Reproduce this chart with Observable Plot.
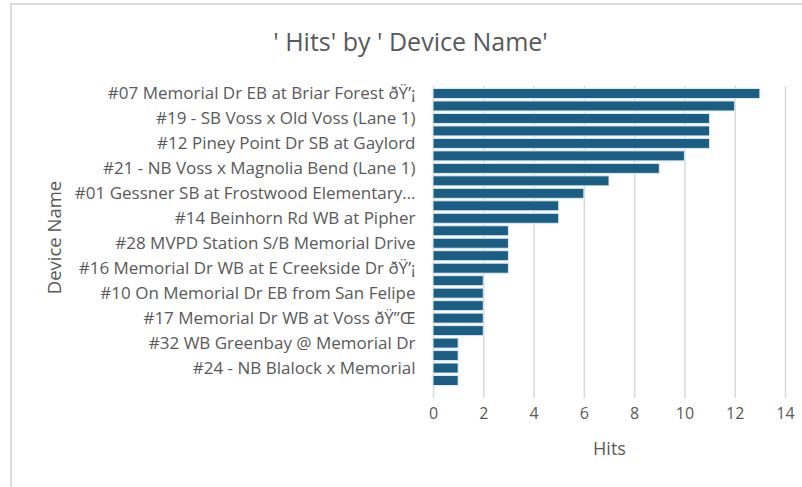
<!DOCTYPE html>
<html>
<head>
<meta charset="utf-8">
<script src="https://cdn.jsdelivr.net/npm/d3@7"></script>
<script src="https://cdn.jsdelivr.net/npm/@observablehq/plot@0.6"></script>
<style>
  html, body { margin: 0; padding: 0; background: #fff; }
  #wrap { position: relative; width: 802px; height: 487px; overflow: hidden; }
  #wrap svg { display: block; }
  #frame { position: absolute; left: 10px; top: 3px; width: 800px; height: 500px;
           border-top: 2px solid #dcdcdc; border-left: 2px solid #dcdcdc; pointer-events: none; }
</style>
</head>
<body>
<div id="wrap"><div id="frame"></div></div>
<script>
const title = "' Hits' by ' Device Name'";
const xLabel = "Hits";
const yLabel = "Device Name";
// Device names (only every other bar is labelled in the reference; unlabelled ones are null)
const deviceNames = [
  "#07 Memorial Dr EB at Briar Forest ðŸ’¡", null,
  "#19 - SB Voss x Old Voss (Lane 1)", null,
  "#12 Piney Point Dr SB at Gaylord", null,
  "#21 - NB Voss x Magnolia Bend (Lane 1)", null,
  "#01 Gessner SB at Frostwood Elementary…", null,
  "#14 Beinhorn Rd WB at Pipher", null,
  "#28 MVPD Station S/B Memorial Drive", null,
  "#16 Memorial Dr WB at E Creekside Dr ðŸ’¡", null,
  "#10 On Memorial Dr EB from San Felipe", null,
  "#17 Memorial Dr WB at Voss ðŸ”Œ", null,
  "#32 WB Greenbay @ Memorial Dr", null,
  "#24 - NB Blalock x Memorial", null
];
const hits = [13, 12, 11, 11, 11, 10, 9, 7, 6, 5, 5, 3, 3, 3, 3, 2, 2, 2, 2, 2, 1, 1, 1, 1];
const xTicks = [0, 2, 4, 6, 8, 10, 12, 14];

const data = hits.map((h, i) => ({i, hits: h}));
const labelled = d3.range(hits.length).filter(i => deviceNames[i] != null);

const W = 802, H = 487, mL = 433, mR = 17, mT = 86, mB = 99;
const FONT = "'Open Sans', sans-serif";

const chart = Plot.plot({
  width: W, height: H,
  marginLeft: mL, marginRight: mR, marginTop: mT, marginBottom: mB,
  style: {fontFamily: FONT, fontSize: "17px", color: "#595959", background: "transparent"},
  x: {domain: [0, 14], ticks: xTicks, label: null},
  y: {domain: d3.range(hits.length), padding: 0.2, round: false, label: null},
  marks: [
    Plot.gridX(xTicks, {stroke: "#d9d9d9", strokeOpacity: 1, strokeWidth: 1.5, insetBottom: -10}),
    Plot.axisX({ticks: xTicks, tickSize: 0, tickPadding: 19, label: null, fontSize: 16}),
    Plot.axisY({ticks: labelled, tickFormat: i => deviceNames[i] ?? "", tickSize: 0, tickPadding: 18, label: null, fontSize: 17}),
    Plot.barX(data, {x: "hits", y: "i", fill: "#1a5e83", stroke: "#dfe9ef", strokeWidth: 1}),
    Plot.text([xLabel], {frameAnchor: "bottom", lineAnchor: "middle", textAnchor: "middle", dy: 61, fontSize: 18, fill: "#595959"}),
    Plot.text([yLabel], {frameAnchor: "left", lineAnchor: "middle", textAnchor: "middle", dx: -378, rotate: -90, fontSize: 18.5, fill: "#595959"}),
    Plot.text([title], {frameAnchor: "top", lineAnchor: "middle", textAnchor: "middle", dx: -199, dy: -44, fontSize: 25, fill: "#595959"})
  ]
});
document.getElementById("wrap").prepend(chart);
</script>
</body>
</html>
